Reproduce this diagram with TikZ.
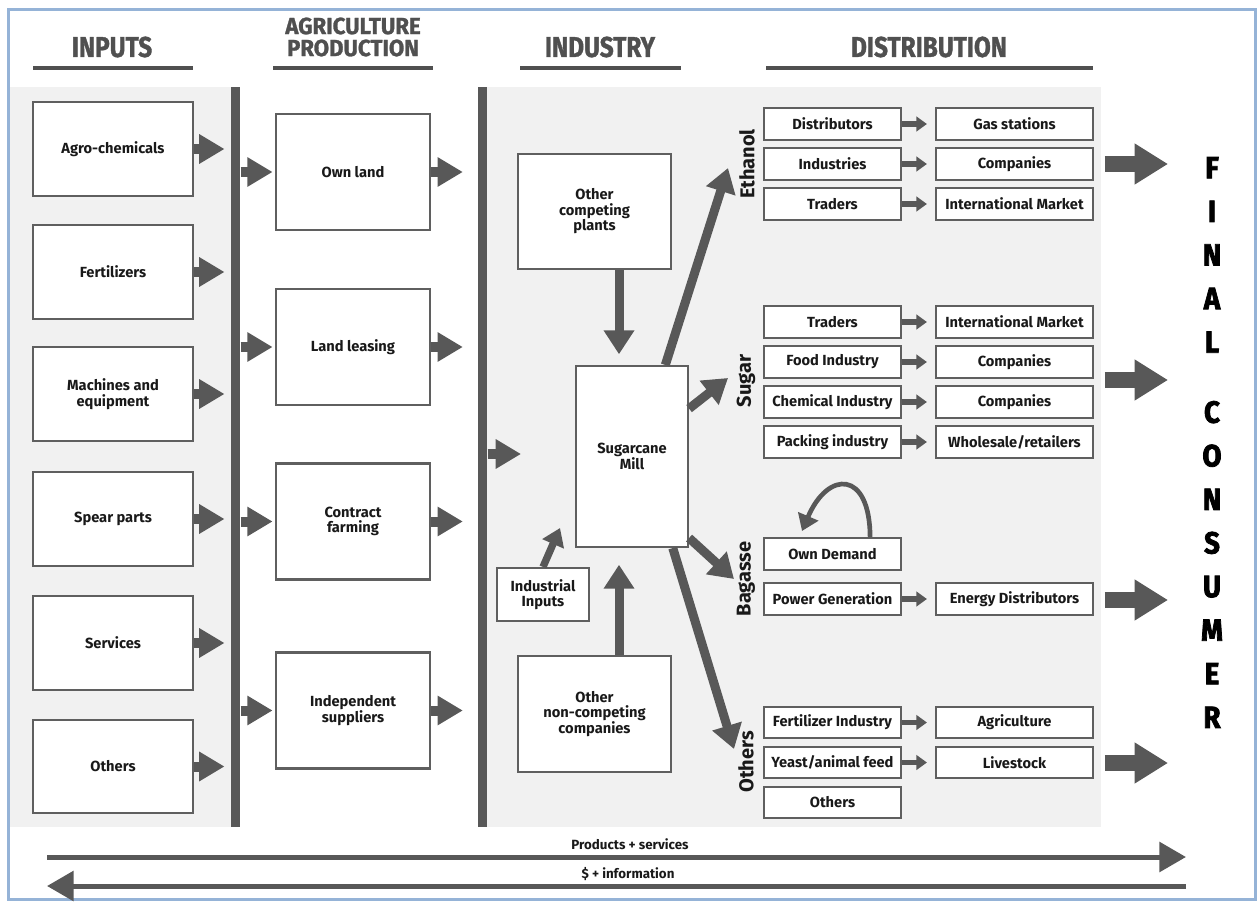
\documentclass[tikz,border=0pt]{standalone}
\usepackage{fontspec}
\setmainfont{Fira Sans}
\newfontfamily\headfam{Fira Sans}[FakeStretch=0.85,FakeBold=1.2]
\newfontfamily\headwidefam{Fira Sans}[FakeStretch=0.95,FakeBold=1.2]
\newfontfamily\consfam{Fira Sans}[FakeStretch=0.9,FakeBold=2.5]
\usetikzlibrary{arrows.meta}

\definecolor{arrgray}{RGB}{88,88,88}
\definecolor{boxgray}{RGB}{95,95,95}
\definecolor{hdrgray}{RGB}{80,80,80}
\definecolor{txt}{RGB}{25,25,25}
\definecolor{panel}{RGB}{241,241,241}
\definecolor{framecol}{RGB}{149,179,215}

\newcommand{\blockfont}{\fontsize{11}{11.6}\selectfont\bfseries}
\newcommand{\headfont}{\headfam\fontsize{21.5}{18}\selectfont\bfseries}
\newcommand{\agrifont}{\headwidefam\fontsize{17.5}{16.5}\selectfont\bfseries}
\newcommand{\grpfont}{\fontsize{15}{15}\selectfont\bfseries}
\newcommand{\consfont}{\consfam\fontsize{23}{32.7}\selectfont\bfseries}
\newcommand{\notefont}{\fontsize{10}{10}\selectfont\bfseries}

\tikzset{every picture/.style={line width=0.75pt}}

\begin{document}
\begin{tikzpicture}[x=0.75pt,y=0.75pt,yscale=-1,xscale=1,
	inbox/.style={draw=boxgray, line width=1.6pt, fill=white, align=center, font=\blockfont, text=txt, inner sep=1pt, minimum width=120pt, minimum height=70pt},
	agbox/.style={inbox, minimum width=115pt, minimum height=87pt},
	indbox/.style={inbox, minimum width=114.75pt, minimum height=86.5pt},
	dbox/.style={inbox, minimum width=102.75pt, minimum height=23.5pt},
	ebox/.style={dbox, minimum width=117.75pt},
	bar/.style={fill=arrgray, inner sep=0pt, minimum width=6.75pt, minimum height=555pt},
	header/.style={font=\headfont, text=hdrgray, align=center},
	hdrline/.style={draw=hdrgray, line width=2.4pt},
	grp/.style={font=\grpfont, text=txt, rotate=90, inner sep=1pt},
	note/.style={font=\notefont, text=txt},
	fat/.style={draw=arrgray, line width=7.5pt, -{Triangle[length=19pt,width=21pt]}},
	flow/.style={draw=arrgray, line width=6.75pt, -{Triangle[length=18pt,width=22pt]}},
	minor/.style={draw=arrgray, line width=5.5pt, -{Triangle[length=13pt,width=17pt]}},
	link/.style={draw=arrgray, line width=4pt, -{Triangle[length=8pt,width=11pt]}},
	outflow/.style={draw=arrgray, line width=12pt, -{Triangle[length=25pt,width=29pt]}},
	longflow/.style={draw=arrgray, line width=3.75pt, -{Triangle[length=20pt,width=22pt]}},
	selfuse/.style={draw=arrgray, line width=3.5pt, -{Triangle[length=12pt,width=16pt]}}]

	\useasboundingbox (0,0) rectangle (1259,903);

	%Shape: Rectangle (panels and frame)
	\fill[panel] (10,87) rectangle (231,827);
	\fill[panel] (487,87) rectangle (1101,827);
	\draw[framecol, line width=2.25pt] (8,9) rectangle (1255,899);

	% Headers
	\node[header] (hinputs) at (112,47) {INPUTS};
	\node[header, font=\agrifont] (hagri) at (353,37) {AGRICULTURE\\PRODUCTION};
	\node[header] (hindustry) at (600,47) {INDUSTRY};
	\node[header] (hdistrib) at (929,47) {DISTRIBUTION};
	\draw[hdrline] (33,68) -- (193,68);
	\draw[hdrline] (273,68) -- (433,68);
	\draw[hdrline] (520,68) -- (681,68);
	\draw[hdrline] (766,68) -- (1093,68);

	% Bars
	\node[bar] (bar1) at (235.5,457) {};
	\node[bar] (bar2) at (482.5,457) {};

	% Inputs
	\node[inbox] (agro) at (113,149) {Agro-chemicals};
	\node[inbox] (fert) at (113,272) {Fertilizers};
	\node[inbox] (mach) at (113,394) {Machines and\\equipment};
	\node[inbox] (spear) at (113,519) {Spear parts};
	\node[inbox] (serv) at (113,643) {Services};
	\node[inbox] (others) at (113,766.5) {Others};
	\foreach \n in {agro,fert,mach,spear,serv,others}
		\draw[fat, shorten >=4.5pt] (\n.east) -- (\n.east -| bar1.west);

	% Agriculture production
	\node[agbox] (own) at (353,172) {Own land};
	\node[agbox] (lease) at (353,347) {Land leasing};
	\node[agbox] (contract) at (353,521.5) {Contract\\farming};
	\node[agbox] (indep) at (353,710.5) {Independent\\suppliers};
	\foreach \n in {own,lease,contract,indep} {
		\draw[fat, shorten >=2pt] (\n.west -| bar1.east) -- (\n.west);
		\draw[fat, shorten >=11pt] (\n.east) -- (\n.east -| bar2.west);
	}

	% Industry
	\coordinate (millin) at (521,454);
	\draw[fat] (millin -| bar2.east) -- (millin);
	\node[indbox] (competing) at (594.5,211.5) {Other\\competing\\plants};
	\node[inbox, minimum width=84pt, minimum height=135.75pt] (mill) at (632,456.5) {Sugarcane\\Mill};
	\node[inbox, minimum width=69pt, minimum height=39.75pt] (inputs) at (543,594.5) {Industrial\\Inputs};
	\node[indbox] (noncomp) at (594.5,714) {Other\\non-competing\\companies};
	\coordinate (dropx) at (619,0);
	\draw[flow, shorten >=8pt] (competing.south -| dropx) -- (mill.north -| dropx);
	\draw[flow, shorten >=12.5pt] (noncomp.north -| dropx) -- (mill.south -| dropx);
	\coordinate (inptip) at (560,528);
	\draw[minor] (inputs.north) -- (inptip);
	\coordinate (ethtip) at (728,168);
	\coordinate (sugtip) at (728,378);
	\coordinate (bagtip) at (734,579);
	\coordinate (othtip) at (734,749);
	\draw[flow] (mill.70) -- (ethtip);
	\draw[flow] (mill.40) -- (sugtip);
	\draw[flow] (mill.-55) -- (bagtip);
	\draw[flow] (mill.-66) -- (othtip);

	% Distribution
	\node[grp] (ethlbl) at (747,164) {Ethanol};
	\node[grp] (suglbl) at (746,381) {Sugar};
	\node[grp] (baglbl) at (746,579) {Bagasse};
	\node[grp] (othlbl) at (746,762) {Others};

	\node[dbox] (distrib) at (832.5,124) {Distributors};
	\node[ebox] (gasst) at (1014.5,124) {Gas stations};
	\node[dbox] (indus) at (832.5,164) {Industries};
	\node[ebox] (comp1) at (1014.5,164) {Companies};
	\node[dbox] (trade1) at (832.5,204) {Traders};
	\node[ebox] (intl1) at (1014.5,204) {International Market};

	\node[dbox] (trade2) at (832.5,322) {Traders};
	\node[ebox] (intl2) at (1014.5,322) {International Market};
	\node[dbox] (food) at (832.5,362) {Food Industry};
	\node[ebox] (comp2) at (1014.5,362) {Companies};
	\node[dbox] (chem) at (832.5,402) {Chemical Industry};
	\node[ebox] (comp3) at (1014.5,402) {Companies};
	\node[dbox] (pack) at (832.5,442) {Packing industry};
	\node[ebox] (whole) at (1014.5,442) {Wholesale/retailers};

	\node[dbox] (owndem) at (832.5,554) {Own Demand};
	\node[dbox] (power) at (832.5,599) {Power Generation};
	\node[ebox] (energy) at (1014.5,599) {Energy Distributors};

	\node[dbox] (fertind) at (832.5,722.5) {Fertilizer Industry};
	\node[ebox] (agric) at (1014.5,722.5) {Agriculture};
	\node[dbox] (yeast) at (832.5,762.5) {Yeast/animal feed};
	\node[ebox] (livest) at (1014.5,762.5) {Livestock};
	\node[dbox] (othuse) at (832.5,802.5) {Others};

	\foreach \a/\b in {distrib/gasst,indus/comp1,trade1/intl1,trade2/intl2,food/comp2,chem/comp3,pack/whole,power/energy,fertind/agric,yeast/livest}
		\draw[link, shorten >=6pt] (\a) -- (\b);

	\coordinate (looptip) at (802,531);
	\draw[selfuse] (owndem.24) .. controls (870,470) and (828,470) .. (looptip);

	% To final consumer
	\coordinate (fin1) at (1168,164);
	\coordinate (fin2) at (1168,380);
	\coordinate (fin3) at (1168,600);
	\coordinate (fin4) at (1168,763);
	\draw[outflow, shorten <=8pt] (fin1 -| comp1.east) -- (fin1);
	\draw[outflow, shorten <=8pt] (fin2 -| comp2.east) -- (fin2);
	\draw[outflow, shorten <=8pt] (fin3 -| energy.east) -- (fin3);
	\draw[outflow, shorten <=8pt] (fin4 -| livest.east) -- (fin4);
	\node[align=center, font=\consfont, text=black, inner sep=0pt] (consumer) at (1212,442.5) {F\\I\\N\\A\\L\\[19.8pt]C\\O\\N\\S\\U\\M\\E\\R};

	% Flows along the chain
	\coordinate (prodL) at (47,857);
	\coordinate (prodR) at (1186,857);
	\coordinate (infoR) at (1186,886);
	\coordinate (infoL) at (47,886);
	\draw[longflow] (prodL) -- (prodR);
	\draw[longflow] (infoR) -- (infoL);
	\node[note] (prodtxt) at (630,844) {Products + services};
	\node[note] (infotxt) at (628,874) {\$ + information};

\end{tikzpicture}
\end{document}
